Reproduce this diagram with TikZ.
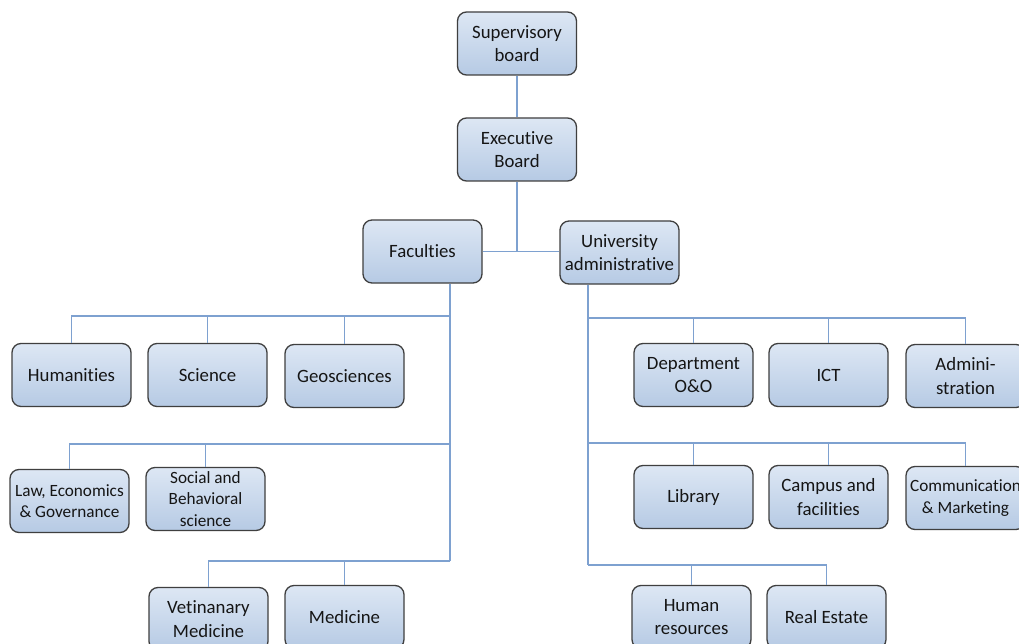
\documentclass[tikz,border=0pt]{standalone}
\usepackage{fontspec}
\setmainfont{Carlito}[Ligatures=NoCommon]
\definecolor{boxline}{HTML}{3F3F3F}
\definecolor{boxtop}{HTML}{DDE7F4}
\definecolor{boxbot}{HTML}{B6CAE4}
\definecolor{conncol}{HTML}{7EA1D0}
\definecolor{textcol}{HTML}{151515}
\tikzset{
  unit/.style={draw=boxline, line width=1.3pt, rounded corners=9pt,
    top color=boxtop, bottom color=boxbot, minimum width=119pt,
    minimum height=63pt, align=center, inner sep=2pt, text=textcol,
    font=\fontsize{18.8}{23.5}\selectfont},
  smallunit/.style={unit, font=\fontsize{17.2}{21.5}\selectfont},
  conn/.style={draw=conncol, line width=1.6pt},
}
\begin{document}
\begin{tikzpicture}[x=1pt, y=-1pt]
  \fill[white] (0,0) rectangle (1019,644);
  \clip (0,0) rectangle (1019,644);

  % top of the hierarchy
  \node[unit] (sup) at (517,43.5)  {Supervisory\\board};
  \node[unit] (exe) at (517,149.5) {Executive\\Board};
  \node[unit] (fac) at (422.5,251.5) {Faculties};
  \node[unit] (uni) at (619.5,252.5) {University\\administrative};

  % faculties
  \node[unit] (hum) at (71.5,375)  {Humanities};
  \node[unit] (sci) at (207.5,375) {Science};
  \node[unit] (geo) at (344.5,376) {Geosciences};
  \node[smallunit] (law) at (69.5,501)  {Law, Economics\\\& Governance};
  \node[smallunit] (soc) at (205.5,499) {Social and\\Behavioral\\science};
  \node[unit] (vet) at (208.5,619) {Vetinanary\\Medicine};
  \node[unit] (med) at (344.5,617) {Medicine};

  % administrative services
  \node[unit] (dep) at (693.5,375) {Department\\O\&O};
  \node[unit] (ict) at (828.5,375) {ICT};
  \node[unit] (adm) at (965.5,376) {Admini-\\stration};
  \node[unit] (lib) at (693.5,497) {Library};
  \node[unit] (cam) at (828.5,497) {Campus and\\facilities};
  \node[smallunit] (com) at (965.5,498) {Communication\\\& Marketing};
  \node[unit] (hr)  at (691.5,617) {Human\\resources};
  \node[unit] (re)  at (826.5,617) {Real Estate};

  % bus points
  \coordinate (lbus1) at (450,316);
  \coordinate (lbus2) at (450,444);
  \coordinate (lbus3) at (450,561);
  \coordinate (rbus1) at (588,318);
  \coordinate (rbus2) at (588,443);
  \coordinate (rbus3) at (588,565);

  % top connectors
  \draw[conn] (sup) -- (exe);
  \draw[conn] (exe.south) -- (exe.south |- fac.east);
  \draw[conn] (fac.east) -- (uni.west |- fac.east);

  % faculties bus
  \draw[conn] (fac.south -| lbus1) -- (lbus3);
  \draw[conn] (lbus1) -| (hum.north);
  \draw[conn] (sci.north) -- (sci.north |- lbus1);
  \draw[conn] (geo.north) -- (geo.north |- lbus1);
  \draw[conn] (lbus2) -| (law.north);
  \draw[conn] (soc.north) -- (soc.north |- lbus2);
  \draw[conn] (lbus3) -| (vet.north);
  \draw[conn] (med.north) -- (med.north |- lbus3);

  % administration bus
  \draw[conn] (uni.south -| rbus1) -- (rbus3);
  \draw[conn] (rbus1) -| (adm.north);
  \draw[conn] (dep.north) -- (dep.north |- rbus1);
  \draw[conn] (ict.north) -- (ict.north |- rbus1);
  \draw[conn] (rbus2) -| (com.north);
  \draw[conn] (lib.north) -- (lib.north |- rbus2);
  \draw[conn] (cam.north) -- (cam.north |- rbus2);
  \draw[conn] (rbus3) -| (re.north);
  \draw[conn] (hr.north) -- (hr.north |- rbus3);
\end{tikzpicture}
\end{document}
